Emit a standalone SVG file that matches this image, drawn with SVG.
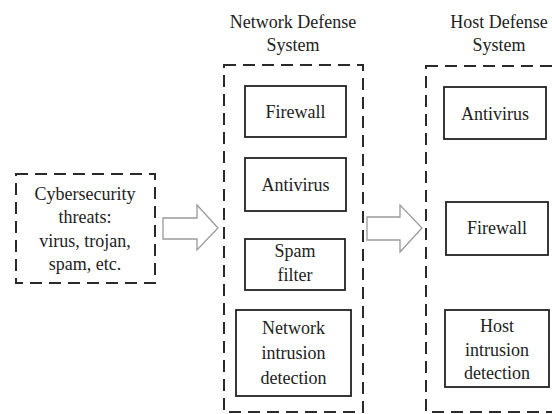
<svg xmlns="http://www.w3.org/2000/svg" width="552" height="414" viewBox="0 0 552 414">
<style>
.dash{fill:none;stroke:#2a2a2a;stroke-width:2;stroke-dasharray:12 7}
.box{fill:#fff;stroke:#222;stroke-width:1.8}
.arrow{fill:#fff;stroke:#9a9a9a;stroke-width:1.3}
text{font-family:"Liberation Serif","Times New Roman",serif;font-size:18px;fill:#222;text-anchor:middle}
</style>
<rect width="552" height="414" fill="#fff"/>
<g id="threats">
<rect class="dash" x="16" y="174" width="139" height="109"/>
<text x="85" y="200">Cybersecurity</text>
<text x="85" y="223">threats:</text>
<text x="85" y="247">virus, trojan,</text>
<text x="85" y="270">spam, etc.</text>
</g>
<g id="network-system">
<text x="293" y="28">Network Defense</text>
<text x="293" y="51">System</text>
<rect class="dash" x="224" y="65" width="139" height="347"/>
</g>
<g id="net-firewall"><rect class="box" x="245" y="86" width="101" height="51"/><text x="295.5" y="118">Firewall</text></g>
<g id="net-antivirus"><rect class="box" x="245" y="158" width="101" height="53"/><text x="295.5" y="191">Antivirus</text></g>
<g id="net-spam"><rect class="box" x="245" y="239" width="100" height="51"/><text x="295" y="257">Spam</text><text x="295" y="281">filter</text></g>
<g id="net-ids"><rect class="box" x="236" y="310" width="115" height="86"/><text x="293.5" y="334">Network</text><text x="293.5" y="359">intrusion</text><text x="293.5" y="384">detection</text></g>
<g id="host-system">
<text x="499" y="28">Host Defense</text>
<text x="499" y="51">System</text>
<rect class="dash" x="426" y="66" width="140" height="346"/>
</g>
<g id="host-antivirus"><rect class="box" x="444" y="87" width="102" height="52"/><text x="495" y="120">Antivirus</text></g>
<g id="host-firewall"><rect class="box" x="446" y="202" width="102" height="53"/><text x="497" y="234">Firewall</text></g>
<g id="host-ids"><rect class="box" x="445" y="310" width="104" height="77"/><text x="497" y="332">Host</text><text x="497" y="356">intrusion</text><text x="497" y="379">detection</text></g>
<g id="connectors">
<path class="arrow" d="M163,218 H197 V205 L218,228 L197,250 V239 H163 Z"/>
<path class="arrow" d="M367,217 H400 V205 L422,228 L400,252 V240 H367 Z"/>
</g>
</svg>
